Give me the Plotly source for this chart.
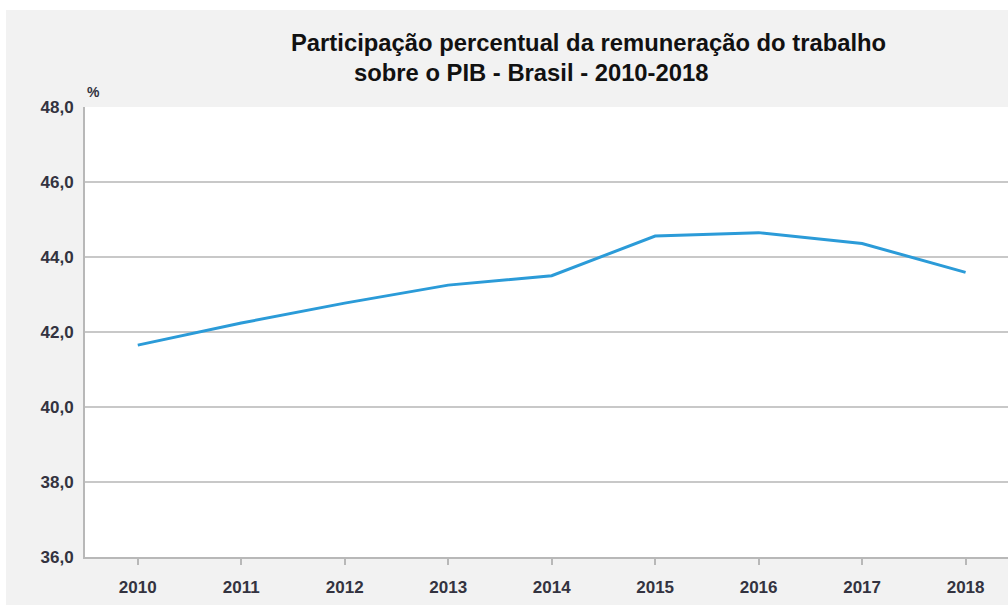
import plotly.graph_objects as go

years = [2010, 2011, 2012, 2013, 2014, 2015, 2016, 2017, 2018]
share = [41.65, 42.24, 42.77, 43.25, 43.50, 44.56, 44.65, 44.36, 43.59]
y_ticks = [36, 38, 40, 42, 44, 46, 48]
title_line1 = "Participação percentual da remuneração do trabalho"
title_line2 = "sobre o PIB - Brasil - 2010-2018"
unit_label = "%"

W, H = 1008, 606
L, R, T, B = 85, 0, 107, 606 - 557
pw, ph = W - L - R, H - T - B

def px_x(sx):
    return (sx - L) / pw

def px_y(sy):
    return (H - B - sy) / ph

fig = go.Figure()
fig.add_trace(go.Scatter(
    x=years, y=share, mode="lines",
    line=dict(color="#2b9bd8", width=3),
    showlegend=False, hoverinfo="x+y",
))

font_fam = "Liberation Sans, Arial, sans-serif"
tick_font = dict(family=font_fam, size=17, color="#333340", weight="bold")

fig.update_layout(
    width=W, height=H,
    margin=dict(l=L, r=R, t=T, b=B, pad=0),
    paper_bgcolor="#f2f2f2",
    plot_bgcolor="white",
    separators=",.",
    font=dict(family=font_fam, color="#333333"),
    xaxis=dict(
        range=[2009.49, 2018.41],
        tickmode="array", tickvals=years, ticktext=[str(y) for y in years],
        showgrid=False, zeroline=False,
        showline=True, linecolor="#b8b8b8", linewidth=2,
        ticks="outside", ticklen=6, tickwidth=1.5, tickcolor="#b8b8b8",
        tickfont=tick_font,
        ticklabelstandoff=8,
    ),
    yaxis=dict(
        range=[36, 48],
        tickmode="array", tickvals=y_ticks,
        tickformat=".1f",
        showgrid=True, gridcolor="#c8c8c8", gridwidth=2,
        zeroline=False,
        showline=True, linecolor="#b8b8b8", linewidth=2,
        ticks="",
        tickfont=tick_font,
        ticklabelstandoff=6,
    ),
    shapes=[
        dict(type="rect", xref="paper", yref="paper",
             x0=px_x(0), x1=px_x(1008), y0=px_y(0), y1=px_y(10),
             fillcolor="white", line=dict(width=0), layer="below"),
        dict(type="rect", xref="paper", yref="paper",
             x0=px_x(0), x1=px_x(6), y0=px_y(606), y1=px_y(0),
             fillcolor="white", line=dict(width=0), layer="below"),
        dict(type="rect", xref="paper", yref="paper",
             x0=px_x(0), x1=px_x(1008), y0=px_y(606), y1=px_y(605),
             fillcolor="white", line=dict(width=0), layer="below"),
    ],
    annotations=[
        dict(text=title_line1, xref="paper", yref="paper",
             x=px_x(289), y=px_y(43), xanchor="left", yanchor="middle",
             showarrow=False,
             font=dict(family=font_fam, size=23.8, color="#111111", weight="bold")),
        dict(text=title_line2, xref="paper", yref="paper",
             x=px_x(352), y=px_y(72), xanchor="left", yanchor="middle",
             showarrow=False,
             font=dict(family=font_fam, size=23.8, color="#111111", weight="bold")),
        dict(text=unit_label, xref="paper", yref="paper",
             x=px_x(85), y=px_y(92), xanchor="left", yanchor="middle",
             showarrow=False,
             font=dict(family=font_fam, size=14, color="#333340", weight="bold")),
    ],
)

fig.write_html(
    "out.html",
    config={"displayModeBar": False},
    post_script="document.body.style.margin='0';document.body.style.overflow='hidden';",
)
